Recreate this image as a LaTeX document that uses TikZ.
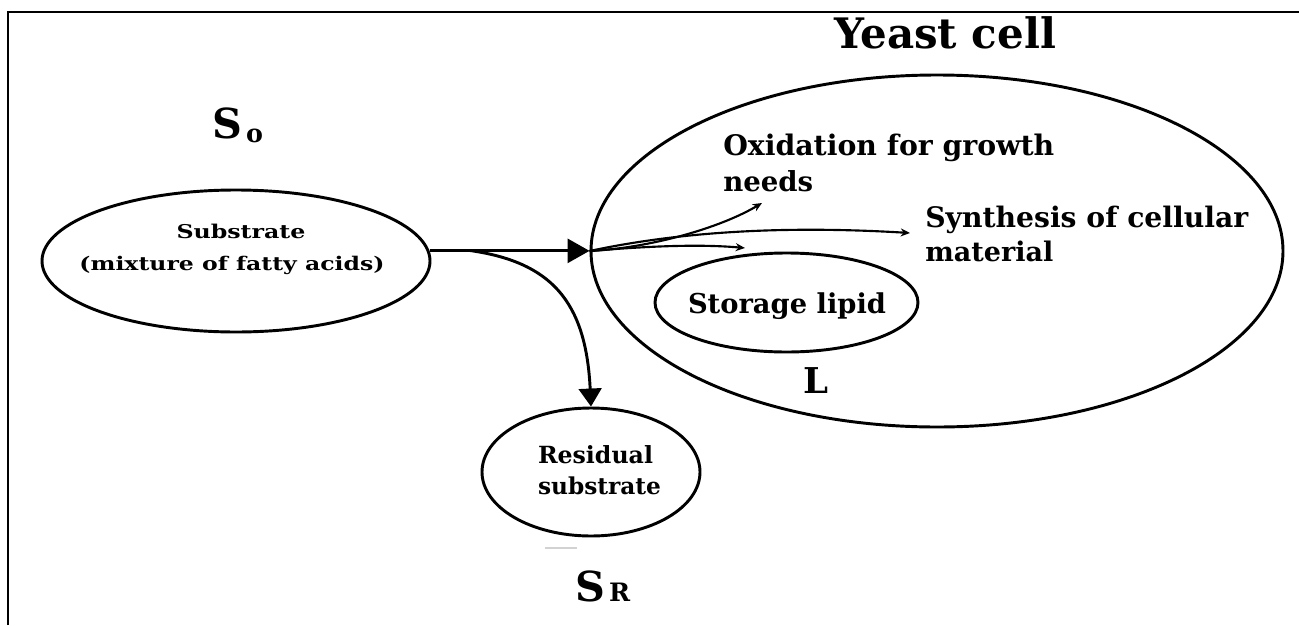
\documentclass[tikz,border=0pt]{standalone}
\usepackage{fontspec}
\usepackage{graphicx}
\newfontfamily\bk{DejaVu Serif}
\usetikzlibrary{shapes.geometric,arrows.meta}
\newcommand\tw[2]{\resizebox{#1pt}{!}{\bk\bfseries #2}}
\begin{document}
\begin{tikzpicture}[x=0.75pt,y=-0.75pt,
  outline/.style={draw, ellipse, line width=2.2pt, inner sep=0pt},
  txt/.style={inner sep=0pt, anchor=base west},
  ctxt/.style={inner sep=0pt, anchor=base},
  conn/.style={line width=2.2pt},
  fan/.style={line width=1.6pt, -{Stealth[length=7pt,width=6pt]}}]
\useasboundingbox (0,0) rectangle (1299,625);
\draw[line width=1.5pt] (8,625) -- (8,12) -- (1299,12);

% ellipses
\node[outline, minimum width=291pt, minimum height=106.5pt] (sub) at (236,261) {};
\node[outline, minimum width=519pt, minimum height=264pt] (cell) at (937,251) {};
\node[outline, minimum width=197.25pt, minimum height=74.25pt] (lipid) at (786.5,302.5) {};
\node[outline, minimum width=163.5pt, minimum height=96pt] (resid) at (591,472) {};

% texts
\node[ctxt] (title) at (945,48) {\tw{166.5}{Yeast cell}};
\node[txt] (s0) at (212,138) {\bk\bfseries\fontsize{31}{31}\selectfont S\hspace{3pt}\raisebox{-3pt}{\fontsize{19}{19}\selectfont o}};
\node[ctxt] (sub1) at (241,238) {\scalebox{1}[0.8]{\tw{96.75}{Substrate}}};
\node[ctxt] (sub2) at (232,270) {\scalebox{1}[0.8]{\tw{228.75}{(mixture of fatty acids)}}};
\node[txt] (ox1) at (723,155) {\tw{248.25}{Oxidation for growth}};
\node[txt] (ox2) at (723,191) {\tw{67.5}{needs}};
\node[txt] (sy1) at (925,227) {\tw{242.25}{Synthesis of cellular}};
\node[txt] (sy2) at (925,261) {\tw{96}{material}};
\node[ctxt] (lip) at (787,313) {\tw{148.5}{Storage lipid}};
\node[txt] (L) at (803,393) {\tw{18.75}{L}};
\node[ctxt] (res1) at (595.5,463) {\tw{86.25}{Residual}};
\node[ctxt] (res2) at (599.5,494) {\tw{92.25}{substrate}};
\node[txt] (sr) at (575,601) {\bk\bfseries\fontsize{31}{31}\selectfont S\hspace{3pt}{\fontsize{19}{19}\selectfont R}};

% connectors
\coordinate (split) at (470,250.5);
\coordinate (oxend) at (762,203);
\coordinate (syend) at (910,233);
\coordinate (liend) at (745,248);
\draw[conn, -{Triangle[length=16.5pt,width=18pt]}] (sub.3.3) -- (sub.3.3 -| cell.west);
\draw[conn, -{Triangle[length=13.5pt,width=17pt]}] (split) .. controls (550,262) and (586,300) .. (resid.north);
\draw[fan] (cell.west) .. controls (650,248) and (720,228) .. (oxend);
\draw[fan] (cell.west) .. controls (660,236) and (760,224) .. (syend);
\draw[fan] (cell.west) .. controls (650,246) and (700,244) .. (liend);
\draw[gray!35, line width=1.2pt] (545,548) -- (577,548);
\end{tikzpicture}
\end{document}
